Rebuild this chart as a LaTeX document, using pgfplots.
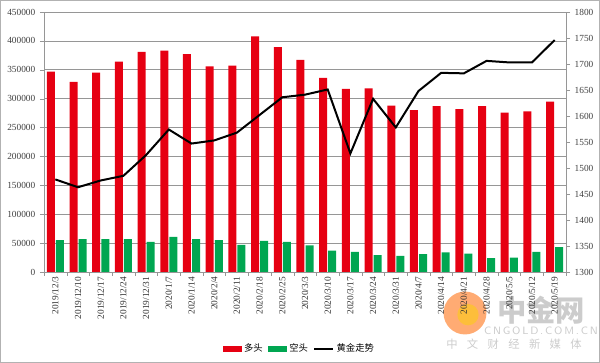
\documentclass[border=0pt]{standalone}
\usepackage{fontspec}
\setmainfont{Liberation Serif}
\newfontfamily\cjk{Noto Sans CJK SC}
\usepackage{pgfplots}
\pgfplotsset{compat=1.18}
\definecolor{barred}{RGB}{230,0,18}
\definecolor{bargreen}{RGB}{0,166,81}
\definecolor{gridgray}{RGB}{150,150,150}
\begin{document}
\begin{tikzpicture}[x=1pt,y=1pt]
\useasboundingbox (-33,-68.25) rectangle (417,204);
\draw[gray!60, line width=0.75pt] (-32.625,-67.875) rectangle (416.625,203.625);
% watermark
\fill[orange!80!red, opacity=0.55] (315.75,-30.75) circle (16.1);
\fill[yellow!70!orange, opacity=0.5] (318,-32) circle (8);
\node[text=gray!40, font=\cjk\bfseries\fontsize{22}{22}\selectfont, inner sep=0] at (372.75,-28.5) {中金网};
\node[text=gray!40, font=\fontsize{8}{8}\selectfont\sffamily, inner sep=0] at (372.75,-44.25) {C\,N\,G\,O\,L\,D\,.\,C\,O\,M\,.\,C\,N};
\node[text=gray!40, font=\cjk\fontsize{8.5}{8.5}\selectfont, inner sep=0] at (352.5,-54) {中\hspace{7pt}文\hspace{7pt}财\hspace{7pt}经\hspace{7pt}新\hspace{7pt}媒\hspace{7pt}体};
\begin{axis}[
  at={(0,0)}, anchor=south west,
  width=391.5pt, height=195pt, scale only axis,
  xmin=-0.5, xmax=22.5, ymin=0, ymax=450000,
  ytick={0,50000,...,450000},
  scaled y ticks=false,
  ytick pos=left, xtick pos=bottom,
  tick align=outside,
  major tick length=3pt,
  axis line style={gridgray},
  tick style={gridgray},
  ymajorgrids, grid style={gridgray, line width=0.5pt},
  yticklabel style={font=\fontsize{7}{8}\selectfont, /pgf/number format/fixed, /pgf/number format/precision=0, /pgf/number format/1000 sep={}, /pgf/number format/assume math mode=true, text=black!75},
  xtick={-0.5,0.5,...,22.5}, xticklabels=\empty,
  extra x ticks={0,1,...,22},
  extra x tick labels={2019/12/3,2019/12/10,2019/12/17,2019/12/24,2019/12/31,2020/1/7,2020/1/14,2020/2/4,2020/2/11,2020/2/18,2020/2/25,2020/3/3,2020/3/10,2020/3/17,2020/3/24,2020/3/31,2020/4/7,2020/4/14,2020/4/21,2020/4/28,2020/5/5,2020/5/12,2020/5/19},
  extra x tick style={major tick length=0pt, tick label style={rotate=90, anchor=east, font=\fontsize{7}{8}\selectfont, text=black!80}},
]
\addplot[ybar, bar width=6pt, bar shift=-3.4pt, fill=barred, draw=none] coordinates {
(0,347000) (1,329000) (2,345000) (3,364000) (4,381000) (5,383000) (6,377000) (7,356000) (8,357000) (9,408000) (10,389000) (11,367000) (12,336000) (13,317000) (14,318000) (15,288000) (16,280000) (17,287000) (18,282000) (19,287000) (20,276000) (21,278000) (22,295000)};
\addplot[ybar, bar width=6pt, bar shift=3.4pt, fill=bargreen, draw=none] coordinates {
(0,55000) (1,57000) (2,57000) (3,57000) (4,52000) (5,61000) (6,57000) (7,55000) (8,47000) (9,54000) (10,52000) (11,46000) (12,37000) (13,35000) (14,29000) (15,28000) (16,31000) (17,34000) (18,32000) (19,24000) (20,25000) (21,35000) (22,43000)};
\end{axis}
\begin{axis}[
  at={(0,0)}, anchor=south west,
  width=391.5pt, height=195pt, scale only axis,
  xmin=-0.5, xmax=22.5, ymin=1300, ymax=1800,
  ytick={1300,1350,...,1800},
  axis y line*=right, axis x line=none,
  tick align=outside, major tick length=3pt,
  axis line style={gridgray}, tick style={gridgray},
  yticklabel style={font=\fontsize{7}{8}\selectfont, /pgf/number format/fixed, /pgf/number format/precision=0, /pgf/number format/1000 sep={}, /pgf/number format/assume math mode=true, text=black!75},
  legend columns=3,
  legend style={at={(0.49,-0.296)}, anchor=center, draw=none, fill=none, font=\cjk\fontsize{7}{8}\selectfont, /tikz/every even column/.append style={column sep=2pt}, inner sep=1pt},
]
\addlegendimage{legend image code/.code={\fill[barred] (0pt,-2pt) rectangle (13.5pt,2pt);}}
\addlegendentry{多头}
\addlegendimage{legend image code/.code={\fill[bargreen] (0pt,-2pt) rectangle (13.5pt,2pt);}}
\addlegendentry{空头}
\addplot[black, line width=1.5pt, mark=none, legend image code/.code={\draw[black, line width=1.5pt] (0pt,0pt) -- (14pt,0pt);}] coordinates {
(0,1478) (1,1463) (2,1476) (3,1485) (4,1525) (5,1574) (6,1547) (7,1553) (8,1568) (9,1602) (10,1636) (11,1641) (12,1651) (13,1528) (14,1633) (15,1578) (16,1648) (17,1683) (18,1682) (19,1706) (20,1703) (21,1703) (22,1746)};
\addlegendentry{黄金走势}
\end{axis}
\end{tikzpicture}
\end{document}
